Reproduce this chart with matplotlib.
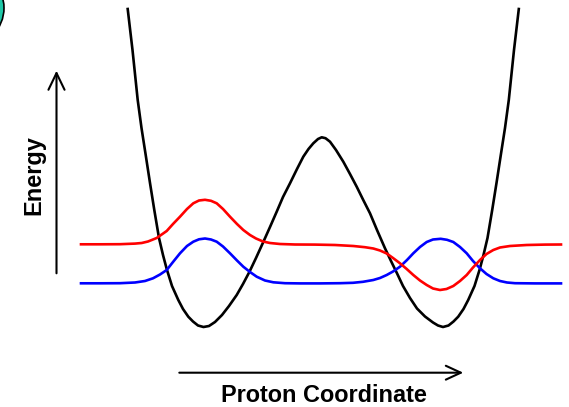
import numpy as np
import matplotlib
matplotlib.use("Agg")
import matplotlib.pyplot as plt
from matplotlib.patches import Circle

plt.rcParams.update({
    'font.family': ['Liberation Sans', 'DejaVu Sans'],
    'font.weight': 'bold',
})

# Double-well proton potential, sampled along the proton coordinate
# (screen units: energy axis runs downward, so the axis is inverted below)
pot_x = [127.7, 132.5, 137.7, 141.5, 145.7, 150.0, 154.3, 159.0, 163.0, 166.7,
         172.0, 178.3, 183.0, 188.3, 193.0, 198.0, 203.5, 209.0, 215.0, 222.0,
         229.0, 236.7, 243.0, 249.5, 256.0, 263.3, 270.0, 276.7, 283.0, 290.0,
         297.0, 303.3, 308.5, 313.3, 318.0, 321.7, 325.5, 330.0, 336.0, 343.3,
         350.0, 356.7, 363.0, 370.0, 377.0, 385.0, 391.0, 397.0, 403.0, 410.0,
         417.0, 425.0, 433.0, 438.0, 443.0, 448.5, 453.5, 458.2, 463.5, 468.2,
         474.5, 479.8, 483.5, 487.5, 492.2, 496.5, 500.8, 505.0, 508.8, 514.0,
         518.8]
pot_e = [9.0, 50.0, 100.0, 128.0, 155.0, 183.0, 210.0, 238.0, 255.0, 269.0,
         286.0, 300.0, 309.0, 316.7, 321.5, 325.5, 327.0, 326.0, 322.0, 315.0,
         306.0, 295.0, 284.0, 271.7, 258.0, 242.0, 227.0, 211.7, 197.0, 183.3,
         169.0, 156.7, 149.0, 143.3, 139.0, 137.3, 138.2, 141.7, 150.0, 161.7,
         174.0, 186.7, 199.5, 213.3, 230.0, 248.3, 261.0, 273.3, 286.0, 298.0,
         308.5, 316.5, 322.5, 325.5, 327.0, 325.5, 321.5, 316.7, 309.0, 300.0,
         286.0, 269.0, 255.0, 238.0, 210.0, 183.0, 155.0, 128.0, 100.0, 50.0,
         9.0]

# Ground state (symmetric combination)
blue_x = [81, 100, 120, 135, 145, 153, 160, 166.7, 173, 180, 187, 193.3, 199,
          205, 211, 216.7, 223, 230, 237, 243.3, 250, 256.7, 265, 273.3, 285,
          300, 320, 340, 353, 363, 373.3, 380, 386.7, 393, 400, 407, 413.3,
          420, 426.7, 433, 440.7, 447, 453.3, 460, 466.7, 473, 480, 486.5,
          493.3, 500, 507, 515, 535, 561]
blue_e = [283.3, 283.3, 283.2, 282.5, 281.0, 278.3, 274.5, 270.0, 262.0, 253.3,
          246.0, 241.7, 239.3, 238.5, 239.5, 241.7, 246.5, 253.3, 260.5, 266.7,
          272.0, 276.7, 280.5, 282.3, 283.2, 283.4, 283.4, 283.2, 282.8, 281.8,
          280.0, 278.0, 275.0, 271.5, 266.7, 260.0, 253.3, 247.0, 242.0, 239.5,
          238.8, 239.8, 242.0, 247.0, 253.3, 261.0, 268.3, 274.0, 278.3, 281.0,
          282.5, 283.2, 283.4, 283.4]

# First excited state (antisymmetric combination)
red_x = [81, 100, 120, 135, 141.7, 148, 156.7, 166.7, 173, 180, 187, 193.3,
         199, 205, 211, 216.7, 223, 230, 237, 243.3, 250, 256, 263, 270, 280,
         295, 315, 335, 353.3, 365, 373.3, 380, 386.7, 393, 400, 406.7, 413.3,
         420, 426.7, 433, 440, 446.5, 453.3, 460, 466.7, 473, 480, 486.5,
         493.3, 500, 510, 526.7, 545, 561]
red_e = [244.3, 244.3, 244.2, 243.6, 243.0, 241.5, 238.0, 231.0, 224.0, 216.7,
         209.0, 203.3, 200.5, 199.8, 200.8, 203.3, 209.0, 216.7, 224.0, 230.0,
         235.0, 238.5, 241.5, 243.0, 244.0, 244.5, 244.6, 245.0, 246.0, 247.2,
         248.5, 250.5, 253.5, 258.0, 263.3, 269.0, 275.0, 280.5, 285.0, 288.5,
         290.0, 289.0, 286.0, 281.0, 275.0, 267.5, 260.0, 254.0, 250.0, 247.5,
         246.0, 245.0, 244.6, 244.5]

fig = plt.figure(figsize=(5.69, 4.07), dpi=100)
ax = fig.add_axes([0, 0, 1, 1])
ax.set_xlim(0, 569)
ax.set_ylim(407, 0)
ax.axis('off')

ax.plot(pot_x, pot_e, color='black', lw=1.9, solid_joinstyle='round', zorder=2)
ax.plot(blue_x, blue_e, color='#0000ff', lw=1.9, solid_joinstyle='round', zorder=3)
ax.plot(red_x, red_e, color='#ff0000', lw=1.9, solid_joinstyle='round', zorder=4)

# axis arrows
ax.annotate('', xy=(56.5, 70.7), xytext=(56.5, 273.3),
            arrowprops=dict(arrowstyle='->,head_length=1.2,head_width=0.58',
                            lw=1.5, color='black', mutation_scale=10,
                            shrinkA=0, shrinkB=0))
ax.annotate('', xy=(463.3, 372.7), xytext=(179.3, 372.7),
            arrowprops=dict(arrowstyle='->,head_length=1.08,head_width=0.5',
                            lw=1.5, color='black', mutation_scale=10,
                            shrinkA=0, shrinkB=0))

ax.text(33.5, 175, 'Energy', rotation=90, ha='center', va='center',
        fontsize=16.9, fontweight='bold')
ax.text(324, 402.5, 'Proton Coordinate', ha='center', va='baseline',
        fontsize=16.9, fontweight='bold')

# panel badge peeking in at the corner
ax.add_patch(Circle((-34, 8), 38, facecolor='#20c8a8', edgecolor='black',
                    lw=1.2, clip_on=True, zorder=5))

fig.savefig('out.png', dpi=100)
